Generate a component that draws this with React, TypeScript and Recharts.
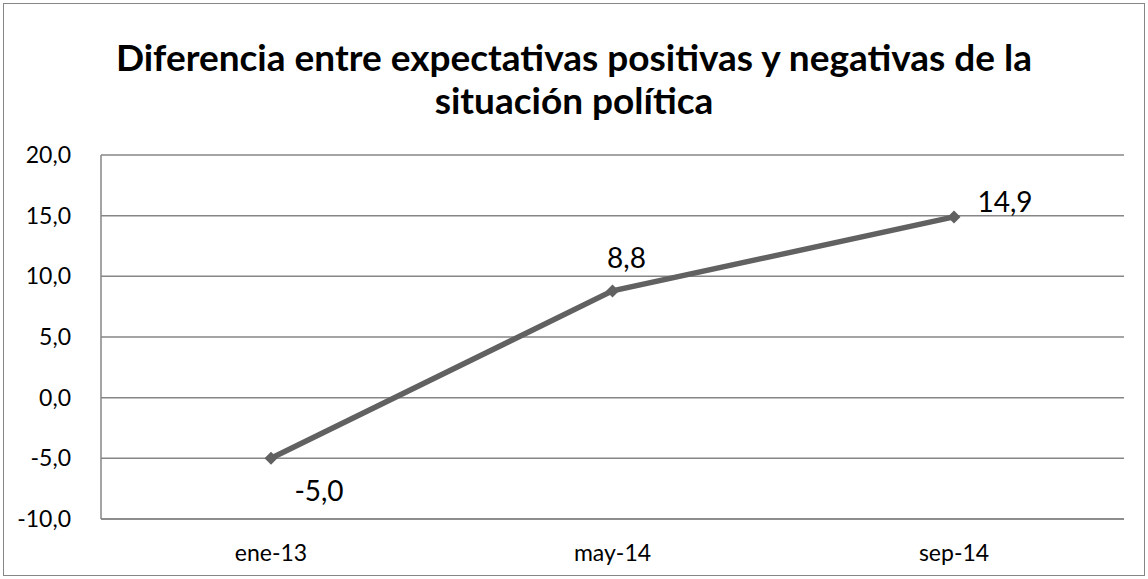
import React from 'react';
import { LineChart, Line, XAxis, YAxis, CartesianGrid, LabelList } from 'recharts';

const CATEGORIES = ['ene-13', 'may-14', 'sep-14'];
const VALUES = [-5.0, 8.8, 14.9];
const Y_TICKS = [-10, -5, 0, 5, 10, 15, 20];
const LABEL_OFFSETS = [
  { dx: 48, dy: 32 },
  { dx: 14, dy: -34 },
  { dx: 51, dy: -16 },
];

const data = CATEGORIES.map((cat, i) => ({ cat, value: VALUES[i] }));

const fmt = (v: number) => v.toFixed(1).replace('.', ',');
const FONT = 'Lato, "Open Sans", sans-serif';
const GRID = '#868686';
const LINE = '#616161';

const Diamond = (props: any) => {
  const { cx, cy } = props;
  if (cx == null || cy == null) return null;
  const r = 6.5;
  return (
    <polygon
      points={`${cx},${cy - r} ${cx + r},${cy} ${cx},${cy + r} ${cx - r},${cy}`}
      fill={LINE}
    />
  );
};

const PointLabel = (props: any) => {
  const { x, y, value, index } = props;
  const off = LABEL_OFFSETS[index] || { dx: 0, dy: 0 };
  return (
    <text
      x={x + off.dx}
      y={y + off.dy}
      textAnchor="middle"
      dominantBaseline="central"
      fontFamily={FONT}
      fontSize={28}
      fill="#000"
    >
      {fmt(value)}
    </text>
  );
};

export default function App() {
  return (
    <div style={{ position: 'absolute', left: 0, top: 0, width: 1148, height: 579, background: '#fff' }}>
      <div
        style={{
          position: 'absolute',
          left: 3,
          top: 3,
          width: 1140,
          height: 571,
          border: `1px solid ${GRID}`,
        }}
      />
      <div
        style={{
          position: 'absolute',
          left: 0,
          top: 35,
          width: 1148,
          textAlign: 'center',
          fontFamily: FONT,
          fontWeight: 700,
          fontSize: 37,
          lineHeight: '43px',
          color: '#000',
        }}
      >
        Diferencia entre expectativas positivas y negativas de la
        <br />
        situación política
      </div>
      <div style={{ position: 'absolute', left: 0, top: 0 }}>
        <LineChart width={1148} height={579} data={data} margin={{ top: 155, right: 24, bottom: 30, left: 0 }}>
          <CartesianGrid vertical={false} stroke={GRID} strokeWidth={1.5} />
          <XAxis
            dataKey="cat"
            axisLine={{ stroke: GRID, strokeWidth: 1.5 }}
            tickLine={false}
            height={30}
            tickMargin={20}
            padding={{ left: 170, right: 170 }}
            tick={{ fill: '#000', fontFamily: FONT, fontSize: 23 }}
          />
          <YAxis
            domain={[-10, 20]}
            ticks={Y_TICKS}
            width={101}
            axisLine={{ stroke: GRID, strokeWidth: 1.5 }}
            tickLine={false}
            tickMargin={24}
            tickFormatter={fmt}
            tick={{ fill: '#000', fontFamily: FONT, fontSize: 23 }}
            interval={0}
          />
          <Line
            type="linear"
            dataKey="value"
            stroke={LINE}
            strokeWidth={5.5}
            dot={<Diamond />}
            activeDot={false}
            isAnimationActive={false}
          >
            <LabelList dataKey="value" content={<PointLabel />} />
          </Line>
        </LineChart>
      </div>
    </div>
  );
}
